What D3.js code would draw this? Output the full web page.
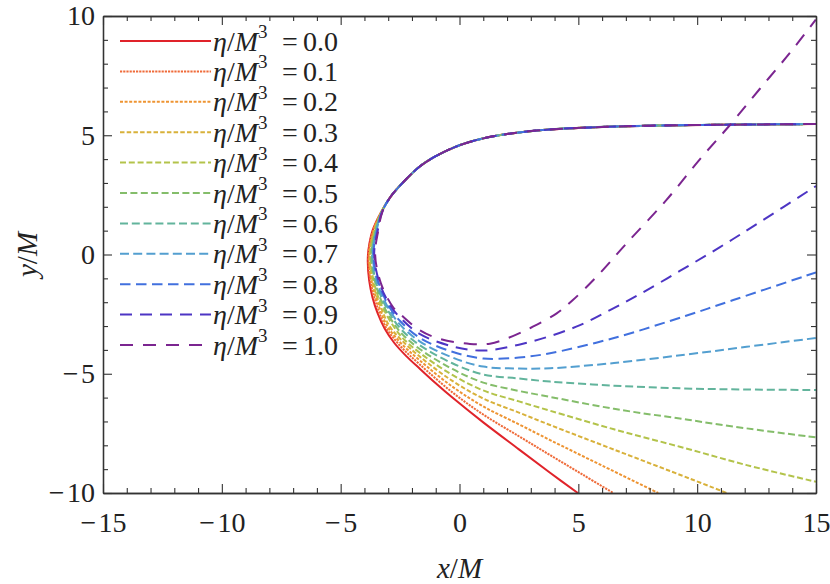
<!DOCTYPE html>
<html>
<head>
<meta charset="utf-8">
<script src="https://cdn.jsdelivr.net/npm/d3@7"></script>
<style>
  html, body { margin: 0; padding: 0; background: #fff; }
  svg { display: block; }
  text { font-family: "Liberation Serif", "Times New Roman", serif; fill: #222; }
</style>
</head>
<body>
<svg id="chart" width="830" height="584"></svg>
<script>
// ---------------- data ----------------
const etaLabels = ["0.0","0.1","0.2","0.3","0.4","0.5","0.6","0.7","0.8","0.9","1.0"];
const xTicks = [-15,-10,-5,0,5,10,15];
const yTicks = [-10,-5,0,5,10];

// shared incoming branch (from the right, y ~ 5.5)
const incoming = [[15,5.47],[11,5.44],[8,5.40],[5.5,5.33],[3.5,5.22],[2,5.05],[1,4.87],[0,4.58],[-1,4.12],[-1.66,3.70],[-2.3,3.10],[-2.9,2.42]];

// outgoing branches, one per eta (turnaround + exit)
const out00 = [[-3.35,1.68],[-3.66,1.0],[-3.83,0.2],[-3.86,-0.3],[-3.80,-1.1],[-3.66,-1.8],[-3.45,-2.45],[-3.15,-3.1],[-2.75,-3.7],[-2.25,-4.25],[-1.66,-4.80],[-1.0,-5.40],[-0.3,-6.0],[1,-7.04],[2.5,-8.17],[3.81,-9.15],[4.98,-10.0]];
const out01 = [[-3.34,1.69],[-3.64,1.0],[-3.83,0],[-3.73,-1.2],[-3.46,-2.2],[-3.13,-3.0],[-2.5,-3.83],[-1.66,-4.62],[-0.3,-5.78],[1,-6.71],[2.5,-7.62],[3.81,-8.41],[5.2,-9.24],[6.47,-10]];
const out02 = [[-3.33,1.70],[-3.61,1.0],[-3.80,0],[-3.68,-1.2],[-3.38,-2.2],[-3.04,-3.0],[-2.5,-3.68],[-1.66,-4.45],[-0.3,-5.54],[1,-6.37],[2.5,-7.12],[3.81,-7.78],[6,-8.85],[8.36,-10]];
const out03 = [[-3.32,1.71],[-3.59,1.0],[-3.77,0],[-3.64,-1.2],[-3.31,-2.2],[-2.95,-3.0],[-2.5,-3.53],[-1.66,-4.29],[-0.3,-5.30],[1,-6.04],[2.5,-6.63],[3.81,-7.15],[6.5,-8.18],[9.7,-9.40],[11.24,-10]];
const out04 = [[-3.31,1.72],[-3.56,1.0],[-3.74,0],[-3.59,-1.2],[-3.24,-2.2],[-2.5,-3.38],[-1.66,-4.13],[-0.3,-5.05],[1,-5.70],[2.5,-6.16],[3.81,-6.55],[6.5,-7.33],[9.27,-8.06],[12.08,-8.83],[15,-9.53]];
const out05 = [[-3.30,1.73],[-3.54,1.0],[-3.71,0],[-3.54,-1.2],[-3.17,-2.2],[-2.5,-3.24],[-1.66,-3.97],[-0.3,-4.80],[1,-5.37],[2.5,-5.72],[3.81,-5.97],[6.5,-6.47],[9.27,-6.88],[12.08,-7.29],[15,-7.67]];
const out06 = [[-3.29,1.74],[-3.52,1.0],[-3.68,0],[-3.50,-1.2],[-3.09,-2.2],[-2.5,-3.09],[-1.66,-3.81],[-0.3,-4.56],[1,-5.03],[2.5,-5.20],[3.81,-5.33],[6.5,-5.50],[9.27,-5.61],[12,-5.66],[15,-5.68]];
const out07 = [[-3.28,1.75],[-3.49,1.0],[-3.65,0],[-3.45,-1.2],[-3.02,-2.2],[-2.5,-2.94],[-1.66,-3.65],[-0.3,-4.32],[1,-4.70],[2.5,-4.78],[3.81,-4.77],[6.5,-4.55],[9.5,-4.20],[12.08,-3.87],[15,-3.50]];
const out08 = [[-3.27,1.76],[-3.47,1.0],[-3.62,0],[-3.40,-1.2],[-2.95,-2.2],[-2.5,-2.79],[-1.66,-3.50],[-0.3,-4.08],[1,-4.36],[2.5,-4.32],[3.81,-4.14],[6.5,-3.50],[9.5,-2.58],[11.52,-1.91],[15,-0.75]];
const out09 = [[-3.26,1.77],[-3.44,1.0],[-3.59,0],[-3.36,-1.2],[-2.87,-2.2],[-2.5,-2.64],[-1.66,-3.34],[-0.3,-3.85],[1,-4.03],[2.5,-3.78],[3.81,-3.42],[5.07,-2.96],[6.33,-2.33],[7.59,-1.66],[9.27,-0.69],[10.96,0.31],[12.64,1.36],[15,2.87]];
const out10 = [[-3.25,1.78],[-3.42,1.0],[-3.55,0],[-3.31,-1.2],[-2.80,-2.2],[-2.5,-2.49],[-1.66,-3.18],[-0.82,-3.54],[0.44,-3.75],[1.28,-3.74],[2.05,-3.50],[3.04,-3.05],[4.09,-2.47],[4.77,-1.91],[5.77,-0.93],[7.03,0.47],[8.71,2.29],[10.12,4.0],[11.38,5.43],[12.64,6.95],[13.9,8.45],[14.99,9.85]];
const outgoing = [out00,out01,out02,out03,out04,out05,out06,out07,out08,out09,out10];

const colors = ["#e0232a","#ef6b3a","#ee9432","#d8b13a","#b3c34a","#84bd6a","#62b49c","#539fd0","#4170de","#4d35c4","#7b2590"];
const dashes = ["none","2.2,1","3,1.6","4.5,2.2","6,2.8","7,3.4","8,3.8","9,4.2","10.5,5.5","12,8","13,10"];

// ---------------- layout ----------------
const svg = d3.select("#chart");
const L = 103, R = 816, T = 16, B = 493;
const x = d3.scaleLinear().domain([-15,15]).range([L,R]);
const y = d3.scaleLinear().domain([-10,10]).range([B,T]);

svg.append("defs").append("clipPath").attr("id","clip")
  .append("rect").attr("x",L).attr("y",T).attr("width",R-L).attr("height",B-T);

// curves
const line = d3.line().x(d=>x(d[0])).y(d=>y(d[1])).curve(d3.curveCatmullRom.alpha(0.5));
const g = svg.append("g").attr("clip-path","url(#clip)");
outgoing.forEach((o,i)=>{
  g.append("path")
    .attr("d", line(incoming.concat(o)))
    .attr("fill","none")
    .attr("stroke",colors[i])
    .attr("stroke-width",2)
    .attr("stroke-dasharray",dashes[i]);
});

// axes
const minorX = d3.range(-15,16,1).filter(v=>v%5!==0);
const minorY = d3.range(-10,11,1).filter(v=>v%5!==0);
const axColor = "#333";
function styleAxis(sel){
  sel.selectAll("path.domain").attr("stroke",axColor).attr("stroke-width",1.3);
  sel.selectAll(".tick line").attr("stroke",axColor).attr("stroke-width",1.1);
  sel.selectAll("text").attr("font-size",28).attr("fill","#222")
     .style("font-family","'Liberation Serif','Times New Roman',serif");
}
const fmt = d => d<0 ? "\u2212\u200A" + Math.abs(d) : String(d);

svg.append("g").attr("transform",`translate(0,${B})`)
  .call(d3.axisBottom(x).tickValues(xTicks).tickFormat(fmt).tickSize(-9).tickSizeOuter(0).tickPadding(19))
  .call(styleAxis);
svg.append("g").attr("transform",`translate(0,${B})`)
  .call(d3.axisBottom(x).tickValues(minorX).tickFormat("").tickSize(-5).tickSizeOuter(0))
  .call(styleAxis);
svg.append("g").attr("transform",`translate(0,${T})`)
  .call(d3.axisTop(x).tickValues(xTicks).tickFormat("").tickSize(-9).tickSizeOuter(0))
  .call(styleAxis);
svg.append("g").attr("transform",`translate(0,${T})`)
  .call(d3.axisTop(x).tickValues(minorX).tickFormat("").tickSize(-5).tickSizeOuter(0))
  .call(styleAxis);
svg.append("g").attr("transform",`translate(${L},0)`)
  .call(d3.axisLeft(y).tickValues(yTicks).tickFormat(fmt).tickSize(-9).tickSizeOuter(0).tickPadding(8))
  .call(styleAxis);
svg.append("g").attr("transform",`translate(${L},0)`)
  .call(d3.axisLeft(y).tickValues(minorY).tickFormat("").tickSize(-5).tickSizeOuter(0))
  .call(styleAxis);
svg.append("g").attr("transform",`translate(${R},0)`)
  .call(d3.axisRight(y).tickValues(yTicks).tickFormat("").tickSize(-9).tickSizeOuter(0))
  .call(styleAxis);
svg.append("g").attr("transform",`translate(${R},0)`)
  .call(d3.axisRight(y).tickValues(minorY).tickFormat("").tickSize(-5).tickSizeOuter(0))
  .call(styleAxis);

// axis titles
const xt = svg.append("text").attr("x",(L+R)/2).attr("y",578).attr("text-anchor","middle").attr("font-size",29);
xt.append("tspan").attr("font-style","italic").text("x");
xt.append("tspan").text("/");
xt.append("tspan").attr("font-style","italic").text("M");
const yt = svg.append("text").attr("transform",`translate(37,${(T+B)/2}) rotate(-90)`).attr("text-anchor","middle").attr("font-size",29);
yt.append("tspan").attr("font-style","italic").text("y");
yt.append("tspan").text("/");
yt.append("tspan").attr("font-style","italic").text("M");

// legend
const lg = svg.append("g");
etaLabels.forEach((lab,i)=>{
  const ly = 41 + i*30.4;
  lg.append("line").attr("x1",120).attr("x2",211).attr("y1",ly).attr("y2",ly)
    .attr("stroke",colors[i]).attr("stroke-width",2).attr("stroke-dasharray",dashes[i]);
  const t = lg.append("text").attr("x",213).attr("y",ly+9.5).attr("font-size",28);
  t.append("tspan").attr("font-style","italic").text("\u03B7");
  t.append("tspan").text("/");
  t.append("tspan").attr("font-style","italic").text("M");
  t.append("tspan").attr("font-size",19).attr("dy",-12.5).text("3");
  t.append("tspan").attr("x",282).attr("dy",12.5).text("=");
  t.append("tspan").attr("x",303).text(lab);
});
</script>
</body>
</html>
